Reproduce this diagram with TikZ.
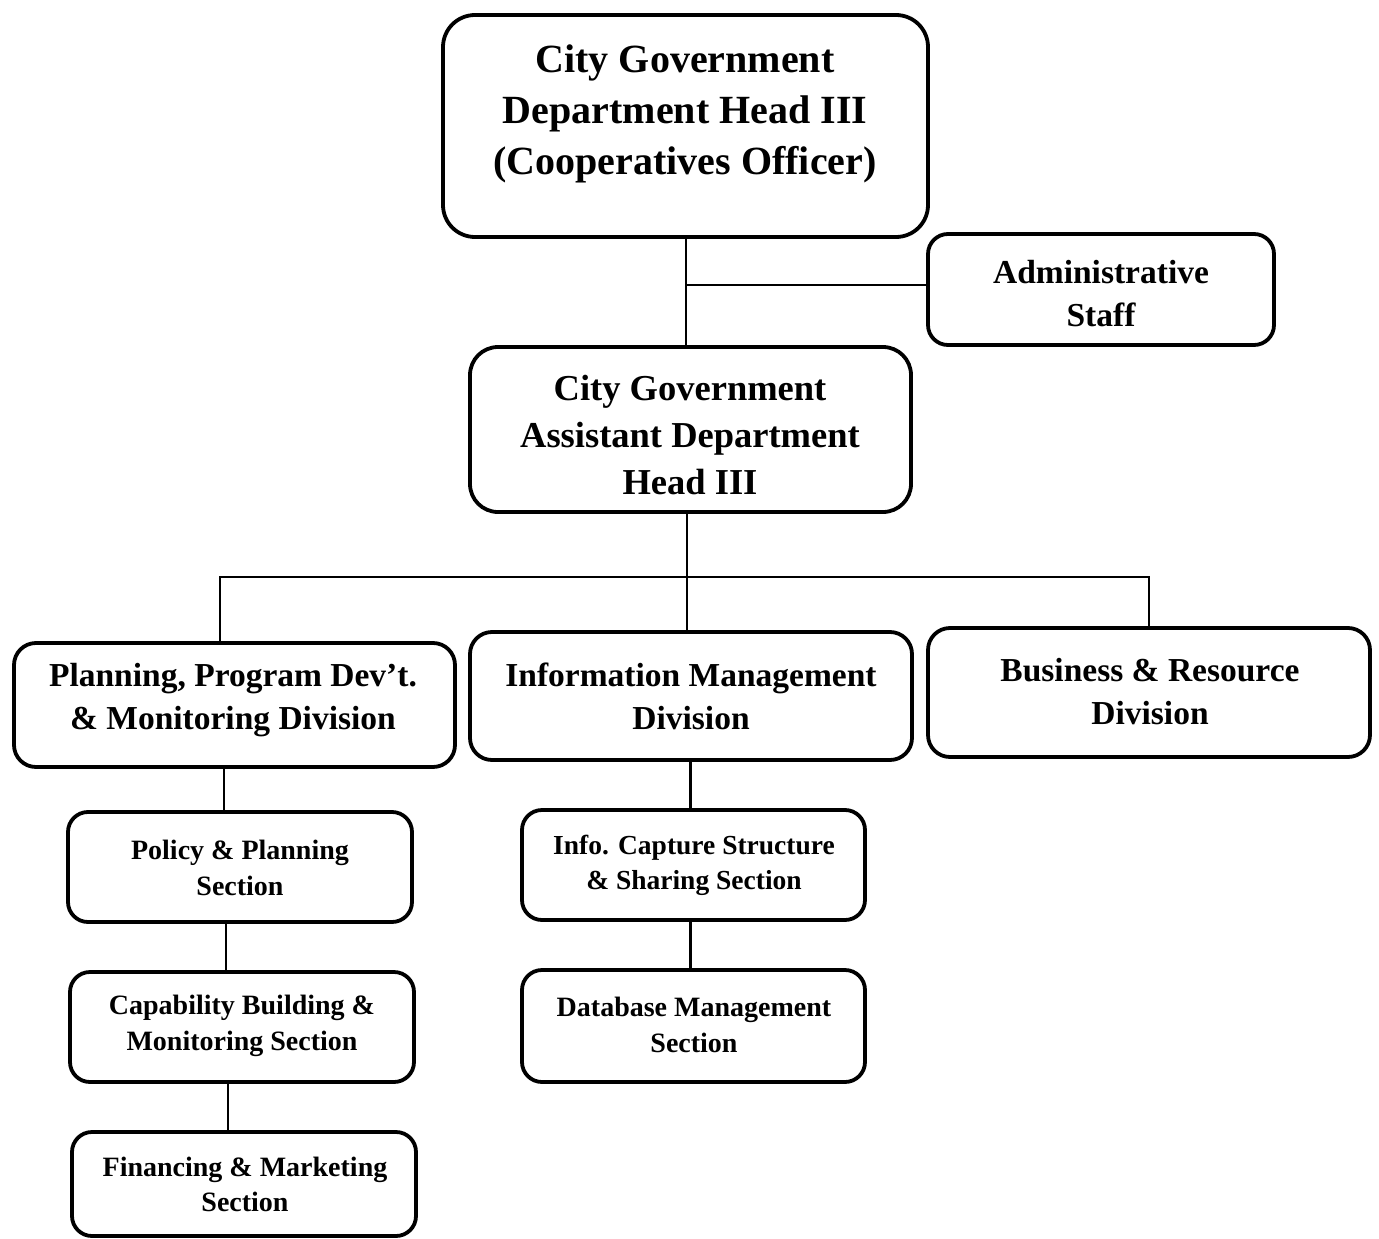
\documentclass[tikz,border=0pt]{standalone}
\usepackage{fontspec}
\setmainfont{Liberation Serif}
\begin{document}
\begin{tikzpicture}[x=1pt,y=-1pt,
  box/.style={draw, line width=3.8, rounded corners=#1, inner sep=0pt},
  box/.default=24,
  wire/.style={line width=2.8},
  lbl/.style={align=center, inner sep=0pt, font=\bfseries}
]
\useasboundingbox (0,0) rectangle (1379,1239);
% boxes
\node[box=32, minimum width=485, minimum height=222] (head) at (685.5,126) {};
\node[box=20, minimum width=346, minimum height=111] (admin) at (1101,289.5) {};
\node[box=28, minimum width=441, minimum height=165] (asst) at (690.5,429.5) {};
\node[box=22, minimum width=441, minimum height=124] (plan) at (234.5,705) {};
\node[box=22, minimum width=442, minimum height=128] (info) at (691,696) {};
\node[box=22, minimum width=442, minimum height=129] (bus) at (1149,692.5) {};
\node[box=20, minimum width=344, minimum height=110] (policy) at (240,867) {};
\node[box=20, minimum width=344, minimum height=110] (capab) at (242,1027) {};
\node[box=20, minimum width=344, minimum height=104] (fin) at (244,1184) {};
\node[box=20, minimum width=343, minimum height=110] (capture) at (693.5,865) {};
\node[box=20, minimum width=343, minimum height=112] (db) at (693.5,1026) {};
% texts
\node[lbl, font=\bfseries\fontsize{40}{51}\selectfont] (headtxt) at (685,114) {City Government\\Department Head III\\(Cooperatives Officer)};
\node[lbl, font=\bfseries\fontsize{33.5}{43}\selectfont] (admintxt) at (1101,294) {Administrative\\Staff};
\node[lbl, font=\bfseries\fontsize{36.5}{47}\selectfont] (assttxt) at (690,435) {City Government\\Assistant Department\\Head III};
\node[lbl, font=\bfseries\fontsize{33.5}{43}\selectfont] (plantxt) at (233,700) {Planning, Program Dev't.\\\& Monitoring Division};
\node[lbl, font=\bfseries\fontsize{33.5}{43}\selectfont] (infotxt) at (691,696) {Information Management\\Division};
\node[lbl, font=\bfseries\fontsize{33.5}{43}\selectfont] (bustxt) at (1150,692) {Business \& Resource\\Division};
\node[lbl, font=\bfseries\fontsize{28}{36}\selectfont] (policytxt) at (240,868) {Policy \& Planning\\Section};
\node[lbl, font=\bfseries\fontsize{28}{36}\selectfont] (capabtxt) at (242,1026) {Capability Building \&\\Monitoring Section};
\node[lbl, font=\bfseries\fontsize{28}{35}\selectfont] (fintxt) at (245,1184) {Financing \& Marketing\\Section};
\node[lbl, font=\bfseries\fontsize{27.5}{35}\selectfont] (capturetxt) at (694,865) {Info. Capture Structure\\\& Sharing Section};
\node[lbl, font=\bfseries\fontsize{28}{36}\selectfont] (dbtxt) at (694,1025) {Database Management\\Section};
% connectors
\coordinate (top) at (686,237);
\coordinate (j) at (687,577);
\draw[wire] (top) -- (top |- asst.north);
\draw[wire] (top |- 0,285) -- (admin.west |- 0,285);
\draw[wire] (j |- asst.south) -- (j);
\draw[wire] ([xshift=-14.5]plan.north) |- (bus.north |- j) -- (bus.north);
\draw[wire] (j) -- (j |- info.north);
\draw[wire] ([xshift=-16]policy.north) -- ([xshift=-16]policy.north |- plan.south);
\draw[wire] ([xshift=-16]capab.north) -- ([xshift=-16]capab.north |- policy.south);
\draw[wire] ([xshift=-16]fin.north) -- ([xshift=-16]fin.north |- capab.south);
\draw[wire] ([xshift=-3]capture.north) -- ([xshift=-3]capture.north |- info.south);
\draw[wire] ([xshift=-3]db.north) -- ([xshift=-3]db.north |- capture.south);
\end{tikzpicture}
\end{document}
